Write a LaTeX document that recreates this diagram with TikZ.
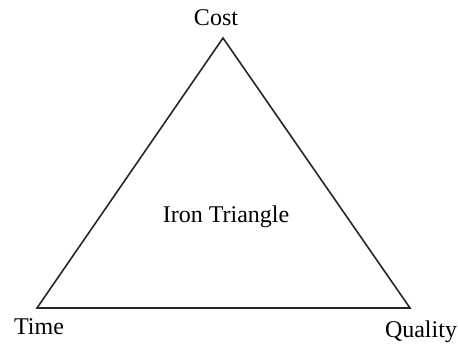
\documentclass[tikz,border=0pt]{standalone}
\usepackage{fontspec}
\setmainfont{Liberation Serif}
\usetikzlibrary{positioning}
\tikzset{
  lbl/.style={
    anchor=base, inner sep=0pt,
    font=\fontsize{24}{28}\selectfont
  },
  side/.style={line width=1.6pt, line join=miter, color=black!85},
}

\begin{document}
\begin{tikzpicture}[x=1pt, y=-1pt]
    \useasboundingbox (0,0) rectangle (458,347);

    \coordinate (top)   at (223,38);
    \coordinate (left)  at (37,308);
    \coordinate (right) at (410,308);

    \node[lbl] (cost)    at (216,26)  {Cost};
    \node[lbl] (time)    at (39,335)  {Time};
    \node[lbl] (quality) at (421,338) {Quality};
    \node[lbl] (iron)    at (226,223) {Iron Triangle};

    \draw[side] (top) -- (right) -- (left) -- cycle;
  \end{tikzpicture}
\end{document}
